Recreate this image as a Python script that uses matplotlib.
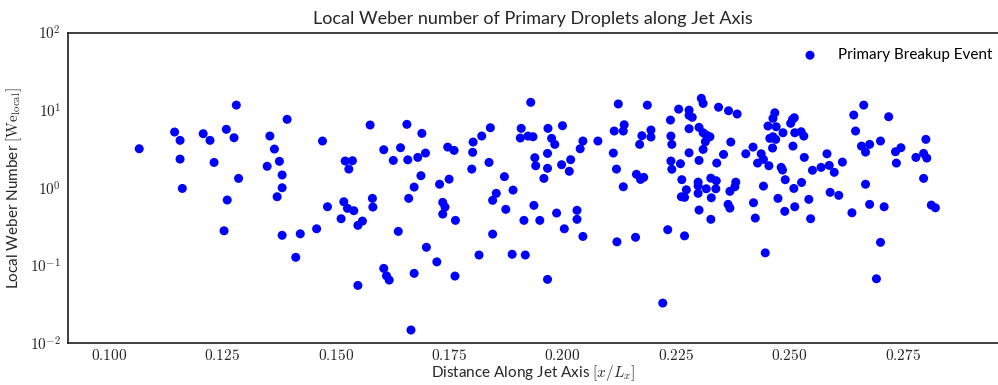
import numpy as np
import matplotlib
matplotlib.use("Agg")
import matplotlib.pyplot as plt
from matplotlib.ticker import FuncFormatter

# Primary breakup events: position along jet axis (x/Lx) and local Weber number
x_pos = [
    0.1281, 0.1145, 0.1208, 0.1259, 0.1157, 0.1223, 0.1276, 0.1067, 0.1157, 0.1232,
    0.1286, 0.1162, 0.1261, 0.1254,
    0.1393, 0.1355, 0.1471, 0.1576, 0.1365, 0.1606, 0.1376, 0.1349, 0.1521, 0.1537,
    0.1529, 0.1382, 0.1382, 0.1371, 0.1518, 0.1581, 0.1482, 0.1526, 0.1540, 0.1582,
    0.1512, 0.1559, 0.1549, 0.1382, 0.1422, 0.1458, 0.1412, 0.1549,
    0.1657, 0.1690, 0.1643, 0.1627, 0.1659, 0.1681, 0.1698, 0.1747, 0.1761, 0.1803,
    0.1822, 0.1841, 0.1909, 0.1907, 0.1802, 0.1838, 0.1800, 0.1688, 0.1750, 0.1729,
    0.1673, 0.1661, 0.1736, 0.1741, 0.1736, 0.1764, 0.1872, 0.1854, 0.1846, 0.1891,
    0.1875, 0.1915, 0.1638, 0.1846, 0.1700, 0.1723, 0.1816, 0.1889, 0.1918, 0.1606,
    0.1612, 0.1618, 0.1673, 0.1763, 0.1666,
    0.1930, 0.2123, 0.2187, 0.1924, 0.1935, 0.1968, 0.2000, 0.1976, 0.1983, 0.1967,
    0.1939, 0.1941, 0.1967, 0.1959, 0.1998, 0.2018, 0.2015, 0.2045, 0.2039, 0.2078,
    0.2114, 0.2136, 0.2134, 0.2112, 0.2119, 0.2134, 0.2163, 0.2172, 0.2179, 0.2175,
    0.2170, 0.2195, 0.2195, 0.1937, 0.1950, 0.1987, 0.2032, 0.2032, 0.2004, 0.2045,
    0.2120, 0.2161, 0.1967, 0.2221,
    0.2306, 0.2310, 0.2256, 0.2279, 0.2279, 0.2286, 0.2344, 0.2366, 0.2385, 0.2238,
    0.2301, 0.2279, 0.2310, 0.2317, 0.2325, 0.2315, 0.2239, 0.2241, 0.2310, 0.2279,
    0.2371, 0.2355, 0.2340, 0.2301, 0.2239, 0.2241, 0.2260, 0.2263, 0.2273, 0.2262,
    0.2269, 0.2299, 0.2299, 0.2299, 0.2317, 0.2327, 0.2339, 0.2338, 0.2328, 0.2382,
    0.2380, 0.2369, 0.2301, 0.2327, 0.2365, 0.2369, 0.2232, 0.2269, 0.2447, 0.2421,
    0.2425, 0.2443, 0.2475, 0.2490, 0.2512, 0.2491, 0.2510, 0.2527, 0.2404, 0.2420,
    0.2438, 0.2443, 0.2430, 0.2455, 0.2482, 0.2485, 0.2463, 0.2508, 0.2457, 0.2464,
    0.2470, 0.2486, 0.2453, 0.2471, 0.2464, 0.2468, 0.2503, 0.2507, 0.2511, 0.2512,
    0.2526, 0.2532,
    0.2533, 0.2543, 0.2547, 0.2551, 0.2570, 0.2583, 0.2588, 0.2599, 0.2617, 0.2590,
    0.2609, 0.2638, 0.2668, 0.2677, 0.2709, 0.2701, 0.2692, 0.2664, 0.2642, 0.2719,
    0.2646, 0.2659, 0.2677, 0.2668, 0.2701, 0.2734, 0.2746, 0.2736, 0.2779, 0.2796,
    0.2803, 0.2801, 0.2796, 0.2813, 0.2822,
]

weber = [
    11.6, 5.22, 4.97, 5.66, 4.08, 4.08, 4.41, 3.18, 2.34, 2.12,
    1.32, 0.98, 0.695, 0.279,
    7.61, 4.64, 4.0, 6.43, 3.15, 3.09, 2.19, 1.89, 2.21, 2.23,
    1.74, 1.46, 1.0, 0.766, 0.66, 0.73, 0.569, 0.543, 0.506, 0.564,
    0.399, 0.372, 0.328, 0.244, 0.255, 0.296, 0.127, 0.0552,
    6.56, 5.02, 3.28, 2.25, 2.29, 2.46, 2.80, 3.34, 3.03, 3.88,
    4.64, 5.93, 5.82, 4.37, 2.86, 2.12, 1.74, 1.43, 1.29, 1.11,
    1.02, 0.73, 0.648, 0.564, 0.458, 0.38, 1.39, 0.847, 0.689, 0.933,
    0.527, 0.38, 0.274, 0.253, 0.171, 0.111, 0.136, 0.139, 0.136, 0.0915,
    0.0734, 0.0647, 0.0789, 0.0728, 0.0147,
    12.6, 12.0, 11.6, 4.63, 4.54, 5.82, 6.30, 4.33, 3.62, 2.77,
    2.44, 1.92, 1.78, 1.32, 1.98, 2.30, 1.63, 4.0, 3.18, 4.0,
    5.38, 6.48, 5.38, 2.80, 1.74, 1.03, 1.49, 1.28, 1.36, 4.68,
    3.62, 5.54, 4.50, 0.593, 0.38, 0.472, 0.512, 0.392, 0.296, 0.236,
    0.201, 0.23, 0.066, 0.0327,
    14.2, 12.2, 10.3, 10.0, 8.57, 8.08, 10.9, 9.82, 8.91, 7.45,
    6.0, 5.76, 5.11, 4.78, 4.54, 3.92, 4.63, 3.62, 3.12, 2.82,
    3.88, 2.69, 2.08, 2.25, 2.21, 1.73, 2.04, 1.27, 0.942, 0.766,
    0.752, 1.18, 1.06, 0.847, 0.97, 1.33, 1.23, 0.97, 0.743, 1.18,
    1.03, 0.899, 0.516, 0.392, 0.611, 0.547, 0.288, 0.24, 0.145, 0.641,
    0.407, 1.05, 0.73, 0.497, 0.569, 1.27, 0.98, 1.17, 2.74, 3.34,
    2.74, 2.32, 2.08, 1.92, 1.83, 1.69, 3.25, 3.44, 4.33, 4.54,
    4.2, 5.11, 6.24, 6.11, 7.84, 9.25, 6.76, 7.6, 7.98, 5.11,
    5.27, 4.63,
    2.46, 0.709, 0.399, 1.68, 1.83, 2.74, 1.94, 1.58, 2.14, 0.873,
    0.798, 0.476, 1.11, 0.611, 0.569, 0.198, 0.0672, 11.6, 8.65, 8.22,
    5.38, 3.44, 3.62, 2.88, 4.0, 2.91, 3.28, 2.08, 2.46, 2.77,
    2.41, 4.2, 1.32, 0.598, 0.552,
]

x_ticks = [0.100, 0.125, 0.150, 0.175, 0.200, 0.225, 0.250, 0.275]
y_ticks = [1e-2, 1e-1, 1e0, 1e1, 1e2]

plt.rcParams["font.family"] = ["Lato", "DejaVu Sans"]
plt.rcParams["mathtext.fontset"] = "cm"

fig = plt.figure(figsize=(9.98, 3.85), dpi=100)
ax = fig.add_axes([68 / 998, 1 - 343 / 385, 930 / 998, 310.5 / 385])

ax.scatter(x_pos, weber, s=42, color="#0000ff", edgecolors="none",
           label="Primary Breakup Event", zorder=3)

ax.set_yscale("log")
ax.set_xlim(0.0910, 0.2960)
ax.set_ylim(1e-2, 1e2)
ax.set_xticks(x_ticks)
ax.set_yticks(y_ticks)
ax.xaxis.set_major_formatter(FuncFormatter(lambda v, p: "$%.3f$" % v))
ax.yaxis.set_major_formatter(FuncFormatter(lambda v, p: "$10^{%d}$" % round(np.log10(v))))
ax.yaxis.set_minor_formatter(FuncFormatter(lambda v, p: ""))
ax.tick_params(which="both", length=0, labelsize=11, colors="#262626", pad=5)
ax.tick_params(axis="x", pad=3.5)

for side in ["left", "bottom", "top"]:
    ax.spines[side].set_color("#262626")
    ax.spines[side].set_linewidth(1.25)
ax.spines["right"].set_visible(False)

ax.set_title("Local Weber number of Primary Droplets along Jet Axis",
             fontsize=13, color="#262626")
ax.set_xlabel(r"Distance Along Jet Axis $[x/L_x]$", fontsize=11, color="#262626",
              labelpad=0)
ax.set_ylabel(r"Local Weber Number $[\mathrm{We}_{\mathrm{local}}]$", fontsize=11,
              color="#262626")
ax.legend(loc="upper right", frameon=False, fontsize=11, scatterpoints=1,
          borderaxespad=0, bbox_to_anchor=(1.0, 0.969))

fig.savefig("out.png", dpi=100)
